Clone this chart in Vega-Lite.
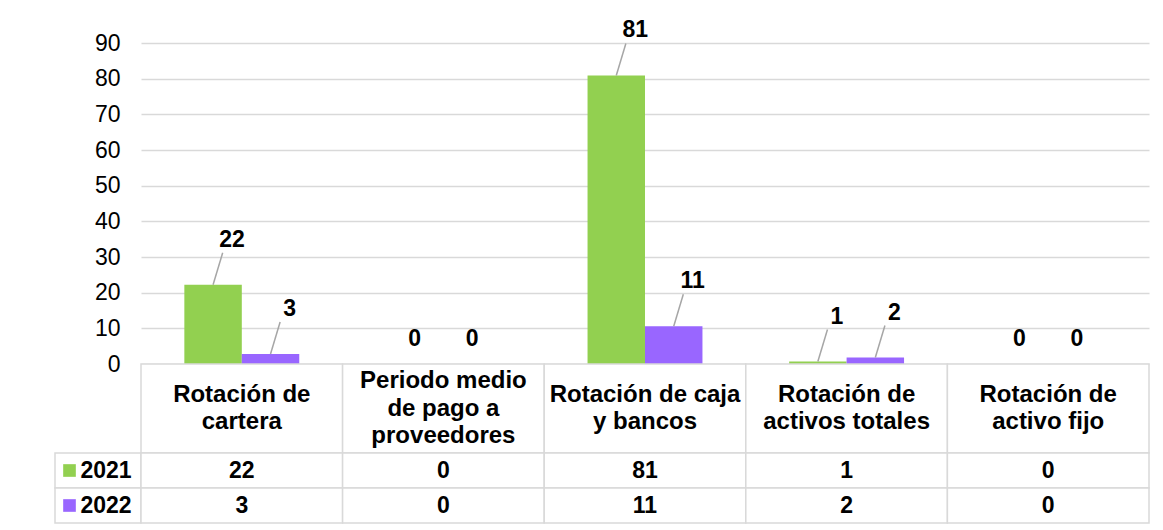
{
  "$schema": "https://vega.github.io/schema/vega-lite/v6.json",
  "padding": {"left": 54, "top": 19, "right": 5, "bottom": 5},
  "background": "white",
  "config": {
    "view": {"stroke": null},
    "font": "Liberation Sans"
  },
  "datasets": {
    "main": [
      {"cat": "Rotación de cartera", "year": "2021", "value": 22.2},
      {"cat": "Rotación de cartera", "year": "2022", "value": 2.8},
      {"cat": "Periodo medio de pago a proveedores", "year": "2021", "value": 0},
      {"cat": "Periodo medio de pago a proveedores", "year": "2022", "value": 0},
      {"cat": "Rotación de caja y bancos", "year": "2021", "value": 80.9},
      {"cat": "Rotación de caja y bancos", "year": "2022", "value": 10.6},
      {"cat": "Rotación de activos totales", "year": "2021", "value": 0.7},
      {"cat": "Rotación de activos totales", "year": "2022", "value": 1.8},
      {"cat": "Rotación de activo fijo", "year": "2021", "value": 0},
      {"cat": "Rotación de activo fijo", "year": "2022", "value": 0}
    ],
    "headers": [
      {"cat": "Rotación de cartera", "label": "Rotación de\ncartera"},
      {"cat": "Periodo medio de pago a proveedores", "label": "Periodo medio\nde pago a\nproveedores"},
      {"cat": "Rotación de caja y bancos", "label": "Rotación de caja\ny bancos"},
      {"cat": "Rotación de activos totales", "label": "Rotación de\nactivos totales"},
      {"cat": "Rotación de activo fijo", "label": "Rotación de\nactivo fijo"}
    ],
    "years": [{"year": "2021"}, {"year": "2022"}]
  },
  "columns": 2,
  "bounds": "flush",
  "spacing": {"row": 0, "column": 0},
  "resolve": {"scale": {"x": "independent", "y": "independent", "xOffset": "independent", "color": "shared"}},
  "concat": [
    {
      "width": 86,
      "height": 321,
      "data": {"values": [{}]},
      "mark": {"type": "text", "text": " "},
      "encoding": {}
    },
    {
      "width": 1008,
      "height": 321,
      "data": {"name": "main"},
      "encoding": {
        "x": {
          "field": "cat",
          "type": "nominal",
          "sort": ["Rotación de cartera", "Periodo medio de pago a proveedores", "Rotación de caja y bancos", "Rotación de activos totales", "Rotación de activo fijo"],
          "scale": {"paddingInner": 0.43, "paddingOuter": 0.215},
          "axis": null
        },
        "xOffset": {
          "field": "year",
          "type": "nominal",
          "scale": {"paddingInner": 0, "paddingOuter": 0}
        },
        "y": {
          "field": "value",
          "type": "quantitative",
          "scale": {"domain": [0, 90], "nice": false, "zero": true},
          "axis": {
            "title": null,
            "values": [0, 10, 20, 30, 40, 50, 60, 70, 80, 90],
            "domain": false,
            "ticks": false,
            "grid": true,
            "gridColor": "#d9d9d9",
            "gridWidth": 1.5,
            "labelFont": "Liberation Sans",
            "labelFontSize": 23,
            "labelColor": "#000000",
            "labelPadding": 21
          }
        }
      },
      "layer": [
        {
          "mark": {"type": "bar"},
          "encoding": {
            "color": {
              "field": "year",
              "type": "nominal",
              "scale": {"domain": ["2021", "2022"], "range": ["#92d050", "#9966ff"]},
              "legend": null
            }
          }
        },
        {
          "transform": [{"filter": "datum.value >= 0.5"}],
          "mark": {"type": "point", "shape": "M0,0L0.6,-2", "size": 1024, "filled": false, "stroke": "#a6a6a6", "strokeWidth": 1.5, "opacity": 1}
        },
        {
          "mark": {
            "type": "text",
            "font": "Liberation Sans",
            "fontWeight": "bold",
            "fontSize": 23,
            "color": "#000000",
            "dx": {"expr": "datum.value < 0.5 ? 0 : 19"},
            "dy": {"expr": "datum.value < 0.5 ? -25 : -45"}
          },
          "encoding": {
            "text": {"field": "value", "type": "quantitative", "format": ".0f"}
          }
        }
      ]
    },
    {
      "width": 86,
      "height": 89,
      "data": {"values": [{}]},
      "mark": {"type": "text", "text": " "},
      "encoding": {}
    },
    {
      "width": 1008,
      "height": 89,
      "data": {"name": "headers"},
      "encoding": {
        "x": {
          "field": "cat",
          "type": "nominal",
          "sort": ["Rotación de cartera", "Periodo medio de pago a proveedores", "Rotación de caja y bancos", "Rotación de activos totales", "Rotación de activo fijo"],
          "scale": {"paddingInner": 0, "paddingOuter": 0},
          "axis": null
        }
      },
      "layer": [
        {"mark": {"type": "rect", "fill": "white", "stroke": "#d9d9d9", "strokeWidth": 1.5}},
        {
          "mark": {
            "type": "text",
            "font": "Liberation Sans",
            "fontWeight": "bold",
            "fontSize": 24,
            "color": "#000000",
            "lineBreak": "\n",
            "lineHeight": 27.5,
            "baseline": "middle",
            "dy": {"expr": "-(length(split(datum.label, '\\n')) - 1) * 13.75"}
          },
          "encoding": {"text": {"field": "label", "type": "nominal"}}
        }
      ]
    },
    {
      "width": 86,
      "height": 70,
      "data": {"name": "years"},
      "encoding": {
        "y": {"field": "year", "type": "nominal", "scale": {"paddingInner": 0, "paddingOuter": 0}, "axis": null}
      },
      "layer": [
        {"mark": {"type": "rect", "fill": "white", "stroke": "#d9d9d9", "strokeWidth": 1.5}},
        {
          "mark": {"type": "point", "shape": "square", "filled": true, "size": 160, "opacity": 1, "xOffset": -28.5},
          "encoding": {
            "color": {"field": "year", "type": "nominal", "legend": null}
          }
        },
        {
          "mark": {"type": "text", "font": "Liberation Sans", "fontWeight": "bold", "fontSize": 23, "color": "#000000", "xOffset": 8},
          "encoding": {"text": {"field": "year"}}
        }
      ]
    },
    {
      "width": 1008,
      "height": 70,
      "data": {"name": "main"},
      "encoding": {
        "x": {
          "field": "cat",
          "type": "nominal",
          "sort": ["Rotación de cartera", "Periodo medio de pago a proveedores", "Rotación de caja y bancos", "Rotación de activos totales", "Rotación de activo fijo"],
          "scale": {"paddingInner": 0, "paddingOuter": 0},
          "axis": null
        },
        "y": {"field": "year", "type": "nominal", "scale": {"paddingInner": 0, "paddingOuter": 0}, "axis": null}
      },
      "layer": [
        {"mark": {"type": "rect", "fill": "white", "stroke": "#d9d9d9", "strokeWidth": 1.5}},
        {
          "mark": {"type": "text", "font": "Liberation Sans", "fontWeight": "bold", "fontSize": 23, "color": "#000000"},
          "encoding": {"text": {"field": "value", "type": "quantitative", "format": ".0f"}}
        }
      ]
    }
  ]
}
